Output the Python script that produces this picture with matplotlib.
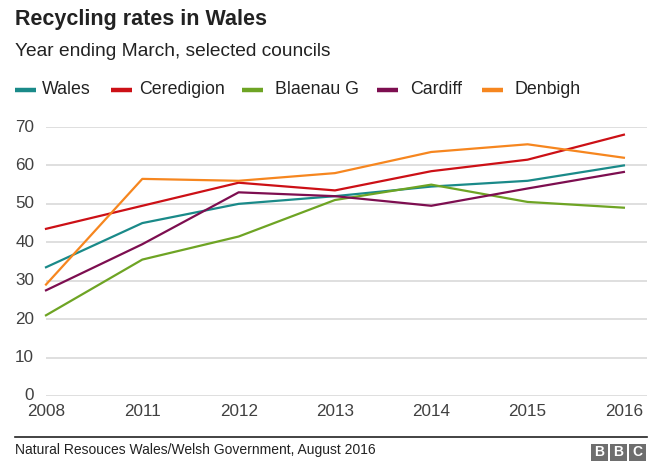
import matplotlib
matplotlib.use("Agg")
import matplotlib.pyplot as plt
from matplotlib.lines import Line2D
from matplotlib.patches import Rectangle

plt.rcParams.update({
    "font.family": "Liberation Sans",
    "figure.facecolor": "white",
    "axes.facecolor": "white",
})

years = ["2008", "2011", "2012", "2013", "2014", "2015", "2016"]
wales = [33.5, 45, 50, 52, 54.5, 56, 60]
ceredigion = [43.5, 49.5, 55.5, 53.5, 58.5, 61.5, 68]
blaenau = [21, 35.5, 41.5, 51, 55, 50.5, 49]
cardiff = [27.5, 39.5, 53, 52, 49.5, 54, 58.3]
denbigh = [29, 56.5, 56, 58, 63.5, 65.5, 62]

names = ["Wales", "Ceredigion", "Blaenau G", "Cardiff", "Denbigh"]
series = [wales, ceredigion, blaenau, cardiff, denbigh]
colors = ["#1a8a89", "#cc1016", "#6ea424", "#7d0e50", "#f6861f"]

W, H = 660, 467
fig = plt.figure(figsize=(6.6, 4.67), dpi=100)

# axes placed in pixel terms
left, right, bottom, top = 46, 647, 396, 127
ax = fig.add_axes([left / W, 1 - bottom / H, (right - left) / W, (bottom - top) / H])

x = list(range(len(years)))
for vals, c in zip(series, colors):
    ax.plot(x, vals, color=c, linewidth=1.6, clip_on=False, zorder=3)

ax.set_xlim(0, 6.24)
ax.set_ylim(0, 70)
ax.set_yticks(range(0, 80, 10))
ax.set_xticks(x)
ax.set_xticklabels(years)
ax.grid(True, axis="y", color="#dcdcdc", linewidth=1.3)
ax.set_axisbelow(True)
for s in ax.spines.values():
    s.set_visible(False)
ax.tick_params(axis="both", length=0, labelsize=12.3, colors="#404040")
ax.tick_params(axis="y", pad=8.5)
for lab in ax.get_yticklabels():
    lab.set_verticalalignment("center")
ax.tick_params(axis="x", pad=6)

# title block
fig.text(15 / W, 1 - 20 / H, "Recycling rates in Wales", fontsize=15.5,
         fontweight="bold", color="#222222", ha="left", va="center")
fig.text(15 / W, 1 - 52 / H, "Year ending March, selected councils", fontsize=13.8,
         color="#222222", ha="left", va="center")

# legend drawn by hand
sw_x = [15, 111, 242, 377, 482]
tx_x = [42, 139, 275, 410, 515]
for sx, tx, name, c in zip(sw_x, tx_x, names, colors):
    fig.add_artist(Line2D([sx / W, (sx + 21) / W], [1 - 89.5 / H, 1 - 89.5 / H],
                          color=c, linewidth=3.2, solid_capstyle="butt",
                          transform=fig.transFigure))
    fig.text(tx / W, 1 - 89 / H, name, fontsize=12.8,
             color="#222222", ha="left", va="center")

# footer
fig.add_artist(Line2D([15 / W, 647 / W], [1 - 437 / H, 1 - 437 / H],
                      color="#222222", linewidth=1.2, transform=fig.transFigure))
fig.text(15 / W, 1 - 450 / H, "Natural Resouces Wales/Welsh Government, August 2016",
         fontsize=10, color="#222222", ha="left", va="center")
for i, letter in enumerate("BBC"):
    bx = 591 + i * 19
    fig.add_artist(Rectangle((bx / W, 1 - 461 / H), 17 / W, 17 / H,
                             facecolor="#6e6e6e", edgecolor="none",
                             transform=fig.transFigure))
    fig.text((bx + 8.5) / W, 1 - 452.5 / H, letter, fontsize=10, fontweight="bold",
             color="white", ha="center", va="center")

fig.savefig("out.png", dpi=100)
